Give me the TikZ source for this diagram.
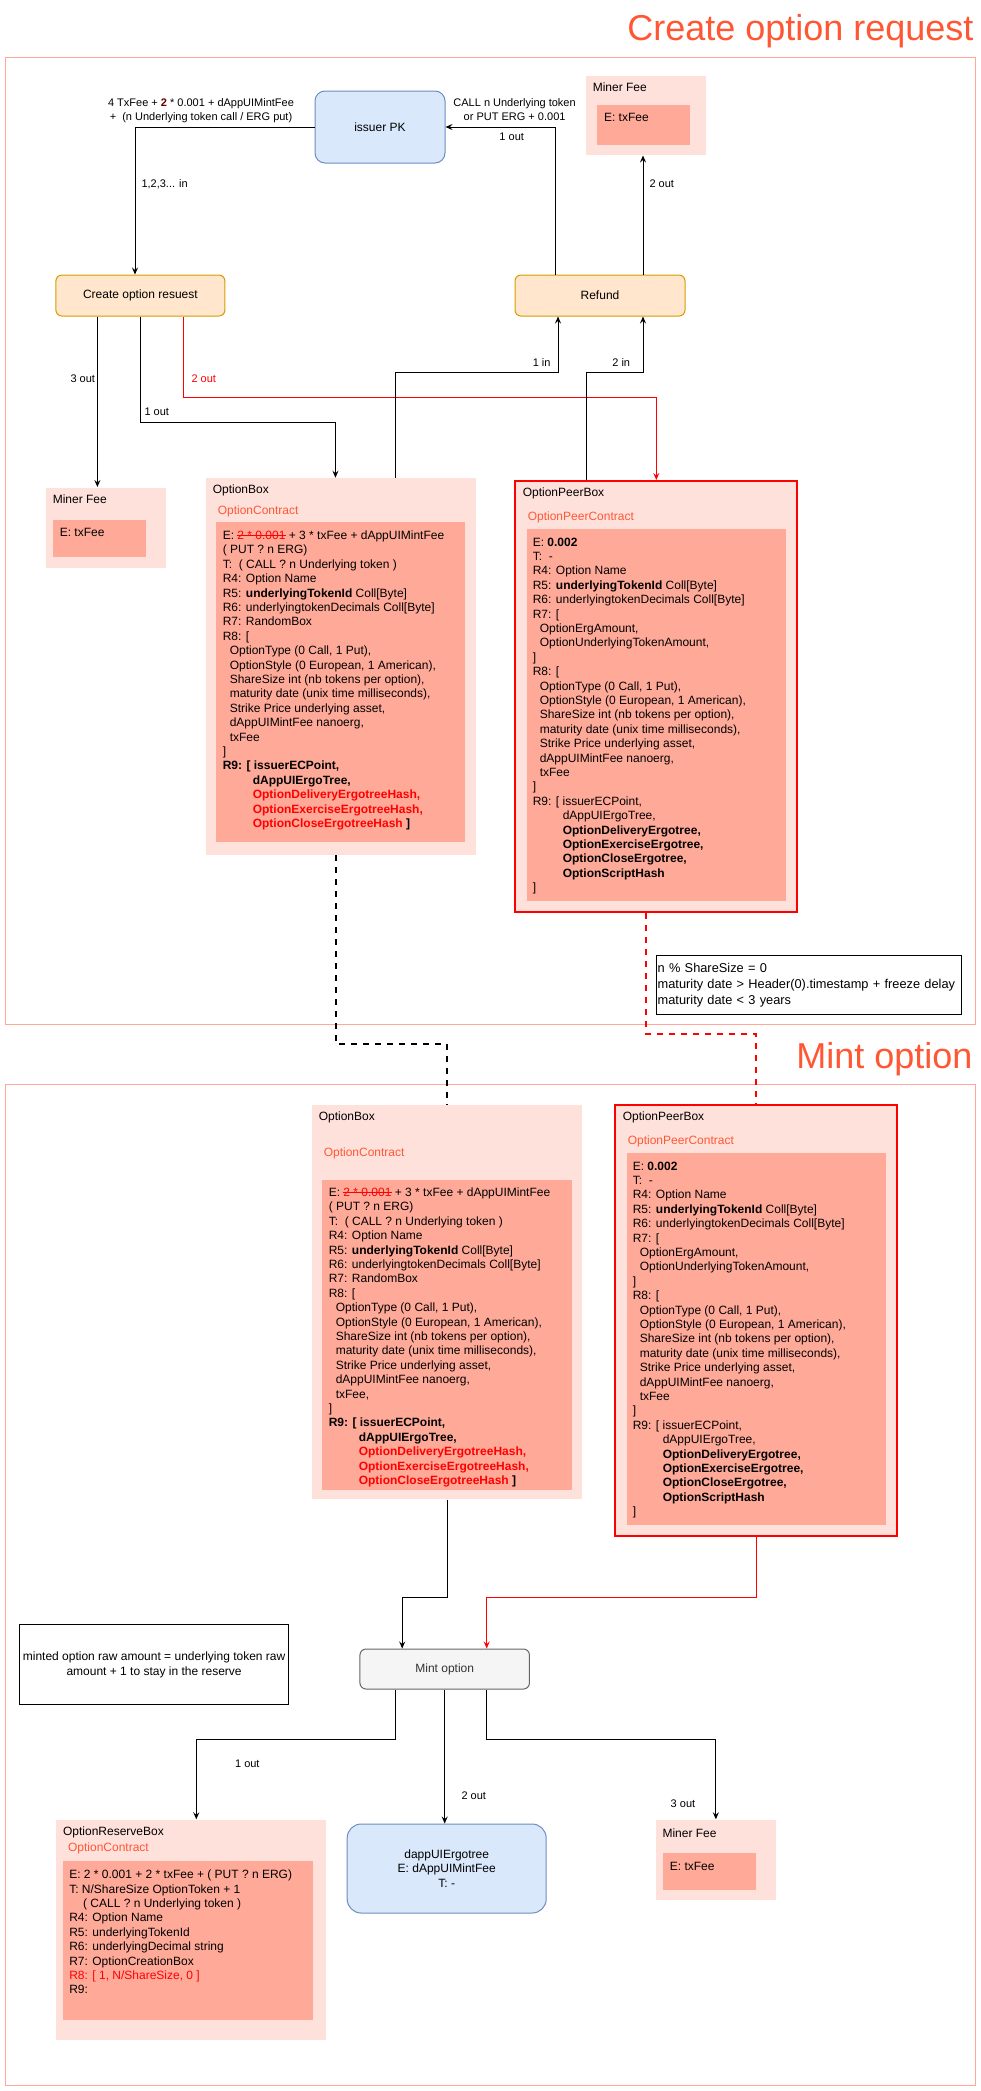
\documentclass[tikz,border=0pt]{standalone}
\usepackage{fontspec}
\setmainfont{Liberation Sans}
\usetikzlibrary{arrows.meta}
\definecolor{boxpink}{HTML}{FFE1DC}
\definecolor{boxsalmon}{HTML}{FFAA99}
\definecolor{framecol}{HTML}{FFA899}
\definecolor{titlecol}{HTML}{FF5733}
\definecolor{bluefill}{HTML}{DAE8FC}
\definecolor{blueline}{HTML}{6C8EBF}
\definecolor{orangefill}{HTML}{FFE6CC}
\definecolor{orangeline}{HTML}{D79B00}
\definecolor{greyfill}{HTML}{F5F5F5}
\definecolor{greyline}{HTML}{666666}
\definecolor{greytext}{HTML}{333333}
\definecolor{darkred}{HTML}{660000}
\newcommand{\strikered}[1]{{\color{red}\sbox0{#1}\rlap{\rule[3.6pt]{\wd0}{0.8pt}}\usebox0}}
\tikzset{every picture/.style={line width=1pt}}
\tikzset{
  stage/.style={draw=framecol, inner sep=0pt, anchor=north west},
  heading/.style={text=titlecol, inner sep=0pt, anchor=base east, font=\fontsize{36}{43}\selectfont},
  boxout/.style={fill=boxpink, inner sep=0pt, anchor=north west},
  peerout/.style={boxout, draw=red, line width=2pt},
  boxin/.style={fill=boxsalmon, inner sep=0pt, anchor=north west},
  regs/.style={inner sep=0pt, anchor=north west, align=left, font=\fontsize{12}{14.4}\selectfont},
  tag/.style={inner sep=0pt, anchor=west, font=\fontsize{12}{14.4}\selectfont},
  contract/.style={tag, text=titlecol},
  elabel/.style={inner sep=0pt, font=\fontsize{11}{14}\selectfont},
  pkbox/.style={draw=blueline, fill=bluefill, rounded corners=10pt, inner sep=0pt, align=center, font=\fontsize{12}{14.4}\selectfont},
  txbox/.style={draw=orangeline, fill=orangefill, rounded corners=6pt, inner sep=0pt, font=\fontsize{12}{14.4}\selectfont},
  mintbox/.style={draw=greyline, fill=greyfill, text=greytext, rounded corners=6pt, inner sep=0pt, font=\fontsize{12}{14.4}\selectfont},
  notebox/.style={draw=black, fill=white, anchor=north west},
  conn/.style={-{Stealth[length=7pt,width=6pt,inset=2.5pt]}},
  connred/.style={conn, draw=red},
  dashconn/.style={line width=2pt, dash pattern=on 6pt off 6pt},
  dashred/.style={dashconn, draw=red}
}

\begin{document}
\begin{tikzpicture}[x=1pt,y=1pt,yscale=-1,xscale=1]
    \useasboundingbox (0,0) rectangle (981,2091);
    \node[stage, minimum width=970, minimum height=967] (stage1) at (5,57) {};
    \node[heading] (stage1title) at (974,40) {Create option request};
    \node[stage, minimum width=970, minimum height=1001] (stage2) at (5,1084) {};
    \node[heading] (stage2title) at (973,1068) {Mint option};

    \node[pkbox, minimum width=130, minimum height=72] (issuerpk) at (380,127) {issuer PK};
    \node[txbox, minimum width=169, minimum height=41] (createreq) at (140.4,295.5) {Create option resuest};
    \node[txbox, minimum width=170, minimum height=41] (refund) at (600,295.5) {Refund};

    \node[boxout, minimum width=119.5, minimum height=79.5] (minerfeetop) at (585.5,75) {};
    \node[boxin, minimum width=93.5, minimum height=40.5] (minerfeetopin) at (596,104) {};
    \node[tag] (minerfeetopname) at (592.3,87.7) {Miner Fee};
    \node[tag] (minerfeetopval) at (603.5,117.7) {E: txFee};

    \node[boxout, minimum width=119.5, minimum height=80] (minerfee1) at (45.7,487) {};
    \node[boxin, minimum width=93.7, minimum height=37.7] (minerfee1in) at (52,519) {};
    \node[tag] (minerfee1name) at (52.3,499.3) {Miner Fee};
    \node[tag] (minerfee1val) at (59.3,532.7) {E: txFee};

    \node[boxout, minimum width=269.3, minimum height=376.3] (optionbox1) at (205.7,477.7) {};
    \node[boxin, minimum width=249, minimum height=320] (optionbox1in) at (215.7,521.7) {};
    \node[tag] (optionbox1name) at (212.3,490.7) {OptionBox};
    \node[contract] (optionbox1kind) at (217.3,511.7) {OptionContract};
    \node[regs] (optionbox1regs) at (222.3,530.2) {E: \strikered{2 * 0.001} + 3 * txFee + dAppUIMintFee\\
( PUT ? n ERG)\\
T:\ \ ( CALL ? n Underlying token )\\
R4: Option Name\\
R5: \textbf{underlyingTokenId} Coll[Byte]\\
R6: underlyingtokenDecimals Coll[Byte]\\
R7: RandomBox\\
R8: [\\
\hspace*{7pt}OptionType (0 Call, 1 Put),\\
\hspace*{7pt}OptionStyle (0 European, 1 American),\\
\hspace*{7pt}ShareSize int (nb tokens per option),\\
\hspace*{7pt}maturity date (unix time milliseconds),\\
\hspace*{7pt}Strike Price underlying asset,\\
\hspace*{7pt}dAppUIMintFee nanoerg,\\
\hspace*{7pt}txFee\\
]\\
\textbf{R9: [ issuerECPoint,}\\
\hspace*{30pt}\textbf{dAppUIErgoTree,}\\
\hspace*{30pt}\textbf{\color{red}OptionDeliveryErgotreeHash,}\\
\hspace*{30pt}\textbf{\color{red}OptionExerciseErgotreeHash,}\\
\hspace*{30pt}\textbf{{\color{red}OptionCloseErgotreeHash} ]}};

    \node[peerout, minimum width=282, minimum height=431] (peerbox1) at (514.3,480) {};
    \node[boxin, minimum width=259, minimum height=372] (peerbox1in) at (526,528) {};
    \node[tag] (peerbox1name) at (522.3,493.3) {OptionPeerBox};
    \node[contract] (peerbox1kind) at (527.3,517.7) {OptionPeerContract};
    \node[regs] (peerbox1regs) at (532.3,537.2) {E: \textbf{0.002}\\
T:\ \ -\\
R4: Option Name\\
R5: \textbf{underlyingTokenId} Coll[Byte]\\
R6: underlyingtokenDecimals Coll[Byte]\\
R7: [\\
\hspace*{7pt}OptionErgAmount,\\
\hspace*{7pt}OptionUnderlyingTokenAmount,\\
]\\
R8: [\\
\hspace*{7pt}OptionType (0 Call, 1 Put),\\
\hspace*{7pt}OptionStyle (0 European, 1 American),\\
\hspace*{7pt}ShareSize int (nb tokens per option),\\
\hspace*{7pt}maturity date (unix time milliseconds),\\
\hspace*{7pt}Strike Price underlying asset,\\
\hspace*{7pt}dAppUIMintFee nanoerg,\\
\hspace*{7pt}txFee\\
]\\
R9: [ issuerECPoint,\\
\hspace*{30pt}dAppUIErgoTree,\\
\hspace*{30pt}\textbf{OptionDeliveryErgotree,}\\
\hspace*{30pt}\textbf{OptionExerciseErgotree,}\\
\hspace*{30pt}\textbf{OptionCloseErgotree,}\\
\hspace*{30pt}\textbf{OptionScriptHash}\\
]};

    \node[notebox, minimum width=305, minimum height=59, text width=302, inner xsep=1.5pt, align=left, font=\fontsize{12.8}{15.8}\selectfont] (mintrules) at (655.7,955) {n \% ShareSize = 0\\
maturity date > Header(0).timestamp + freeze delay\\
maturity date < 3 years};

    \draw[conn] (issuerpk.west) -| ([xshift=-5.4pt]createreq.north);
    \node[elabel, fill=white, inner sep=2pt, align=center] (depositlbl) at (201,111) {4 TxFee + {\bfseries\color{darkred}2} * 0.001 + dAppUIMintFee\\+\ \ (n Underlying token call / ERG put)};
    \node[elabel, anchor=west] (inlbl) at (141,184) {1,2,3... in};

    \draw[conn] ([xshift=-44.5pt]refund.north) |- (issuerpk.east);
    \node[elabel, align=center] (calllbl) at (514.6,110) {CALL n Underlying token\\or PUT ERG + 0.001};
    \node[elabel] (refundout1) at (511.7,137) {1 out};
    \draw[conn] ([xshift=43pt]refund.north) -- ([xshift=43pt]refund.north |- minerfeetop.south);
    \node[elabel, anchor=west] (refundout2) at (649,184) {2 out};

    \draw[conn] ([xshift=-43pt]createreq.south) -- ([xshift=-43pt]createreq.south |- minerfee1.north);
    \node[elabel, anchor=east] (createout3) at (95.5,379) {3 out};
    \coordinate (bendA) at (0,422);
    \draw[conn] (createreq.south) -- (createreq.south |- bendA) -| ([xshift=-5.4pt]optionbox1.north);
    \node[elabel, anchor=west] (createout1) at (144,412) {1 out};
    \coordinate (bendB) at (0,397);
    \draw[connred] ([xshift=43pt]createreq.south) -- ([xshift=43pt]createreq.south |- bendB) -| (peerbox1.north);
    \node[elabel, anchor=west, text=red] (createout2) at (191,379) {2 out};

    \coordinate (bendC) at (0,372);
    \draw[conn] ([xshift=55pt]optionbox1.north) -- ([xshift=55pt]optionbox1.north |- bendC) -| ([xshift=-42pt]refund.south);
    \node[elabel, anchor=east] (refundin1) at (551,363) {1 in};
    \draw[conn] ([xshift=-69.7pt]peerbox1.north) -- ([xshift=-69.7pt]peerbox1.north |- bendC) -| ([xshift=43pt]refund.south);
    \node[elabel, anchor=east] (refundin2) at (630.6,363) {2 in};

    \node[boxout, minimum width=270, minimum height=394.4] (optionbox2) at (311.7,1104.3) {};
    \node[boxin, minimum width=250.7, minimum height=310.3] (optionbox2in) at (321,1179) {};
    \node[tag] (optionbox2name) at (318.3,1117.7) {OptionBox};
    \node[contract] (optionbox2kind) at (323.3,1153.3) {OptionContract};
    \node[regs] (optionbox2regs) at (328.3,1187.2) {E: \strikered{2 * 0.001} + 3 * txFee + dAppUIMintFee\\
( PUT ? n ERG)\\
T:\ \ ( CALL ? n Underlying token )\\
R4: Option Name\\
R5: \textbf{underlyingTokenId} Coll[Byte]\\
R6: underlyingtokenDecimals Coll[Byte]\\
R7: RandomBox\\
R8: [\\
\hspace*{7pt}OptionType (0 Call, 1 Put),\\
\hspace*{7pt}OptionStyle (0 European, 1 American),\\
\hspace*{7pt}ShareSize int (nb tokens per option),\\
\hspace*{7pt}maturity date (unix time milliseconds),\\
\hspace*{7pt}Strike Price underlying asset,\\
\hspace*{7pt}dAppUIMintFee nanoerg,\\
\hspace*{7pt}txFee,\\
]\\
\textbf{R9: [ issuerECPoint,}\\
\hspace*{30pt}\textbf{dAppUIErgoTree,}\\
\hspace*{30pt}\textbf{\color{red}OptionDeliveryErgotreeHash,}\\
\hspace*{30pt}\textbf{\color{red}OptionExerciseErgotreeHash,}\\
\hspace*{30pt}\textbf{{\color{red}OptionCloseErgotreeHash} ]}};

    \node[peerout, minimum width=282, minimum height=431.3] (peerbox2) at (614.3,1103.7) {};
    \node[boxin, minimum width=259, minimum height=371.7] (peerbox2in) at (626,1152.3) {};
    \node[tag] (peerbox2name) at (622.3,1117.7) {OptionPeerBox};
    \node[contract] (peerbox2kind) at (627.3,1141.7) {OptionPeerContract};
    \node[regs] (peerbox2regs) at (632.3,1161.2) {E: \textbf{0.002}\\
T:\ \ -\\
R4: Option Name\\
R5: \textbf{underlyingTokenId} Coll[Byte]\\
R6: underlyingtokenDecimals Coll[Byte]\\
R7: [\\
\hspace*{7pt}OptionErgAmount,\\
\hspace*{7pt}OptionUnderlyingTokenAmount,\\
]\\
R8: [\\
\hspace*{7pt}OptionType (0 Call, 1 Put),\\
\hspace*{7pt}OptionStyle (0 European, 1 American),\\
\hspace*{7pt}ShareSize int (nb tokens per option),\\
\hspace*{7pt}maturity date (unix time milliseconds),\\
\hspace*{7pt}Strike Price underlying asset,\\
\hspace*{7pt}dAppUIMintFee nanoerg,\\
\hspace*{7pt}txFee\\
]\\
R9: [ issuerECPoint,\\
\hspace*{30pt}dAppUIErgoTree,\\
\hspace*{30pt}\textbf{OptionDeliveryErgotree,}\\
\hspace*{30pt}\textbf{OptionExerciseErgotree,}\\
\hspace*{30pt}\textbf{OptionCloseErgotree,}\\
\hspace*{30pt}\textbf{OptionScriptHash}\\
]};

    \coordinate (bendD) at (0,1044);
    \draw[dashconn] ([xshift=-4.5pt]optionbox1.south) -- ([xshift=-4.5pt]optionbox1.south |- bendD) -| (optionbox2.north);
    \coordinate (bendE) at (0,1034);
    \draw[dashred] ([xshift=-10pt]peerbox1.south) -- ([xshift=-10pt]peerbox1.south |- bendE) -| (peerbox2.north);

    \node[mintbox, minimum width=169.5, minimum height=40] (mint) at (444.7,1669) {Mint option};
    \node[notebox, minimum width=269.6, minimum height=80, align=center, font=\fontsize{12}{15}\selectfont] (mintnote) at (18.8,1624) {minted option raw amount = underlying token raw\\amount + 1 to stay in the reserve};

    \coordinate (bendF) at (0,1597);
    \draw[conn] (optionbox2.south) -- (optionbox2.south |- bendF) -| ([xshift=-42.5pt]mint.north);
    \draw[connred] (peerbox2.south) -- (peerbox2.south |- bendF) -| ([xshift=42pt]mint.north);

    \node[boxout, minimum width=269.6, minimum height=220] (reservebox) at (55.7,1819.3) {};
    \node[boxin, minimum width=249.6, minimum height=158.6] (reserveboxin) at (62.6,1860.7) {};
    \node[tag] (reserveboxname) at (62.6,1832.7) {OptionReserveBox};
    \node[contract] (reserveboxkind) at (67.6,1848.7) {OptionContract};
    \node[regs] (reserveboxregs) at (68.8,1869.5) {E: 2 * 0.001 + 2 * txFee + ( PUT ? n ERG)\\
T: N/ShareSize OptionToken + 1\\
\hspace*{13.8pt}( CALL ? n Underlying token )\\
R4: Option Name\\
R5: underlyingTokenId\\
R6: underlyingDecimal string\\
R7: OptionCreationBox\\
{\color{red}R8: [ 1, N/ShareSize, 0 ]}\\
R9:};

    \node[pkbox, rounded corners=14pt, minimum width=199, minimum height=89] (dappui) at (446.7,1868.5) {dappUIErgotree\\E: dAppUIMintFee\\T: -};

    \node[boxout, minimum width=119.3, minimum height=80] (minerfee3) at (655.7,1819.3) {};
    \node[boxin, minimum width=93, minimum height=37.3] (minerfee3in) at (662,1852) {};
    \node[tag] (minerfee3name) at (662,1832.7) {Miner Fee};
    \node[tag] (minerfee3val) at (669.4,1866) {E: txFee};

    \coordinate (bendG) at (0,1739);
    \draw[conn] ([xshift=-49.3pt]mint.south) -- ([xshift=-49.3pt]mint.south |- bendG) -| ([xshift=5.3pt]reservebox.north);
    \node[elabel, anchor=west] (mintout1) at (234.6,1764) {1 out};
    \draw[conn] (mint.south) -- (mint.south |- dappui.north);
    \node[elabel, anchor=west] (mintout2) at (461,1796) {2 out};
    \draw[conn] ([xshift=42pt]mint.south) -- ([xshift=42pt]mint.south |- bendG) -| (minerfee3.north);
    \node[elabel, anchor=east] (mintout3) at (695.7,1804) {3 out};
\end{tikzpicture}
\end{document}
